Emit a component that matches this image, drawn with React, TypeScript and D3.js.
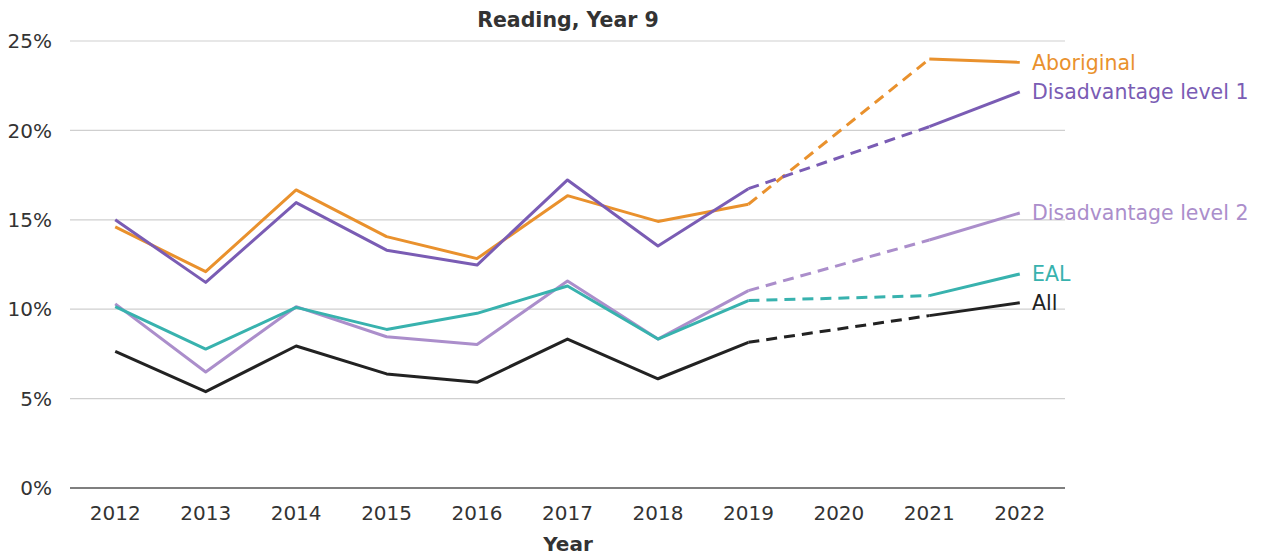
import * as d3 from "d3"
import { useRef, useEffect } from "react"

const years = [2012, 2013, 2014, 2015, 2016, 2017, 2018, 2019, 2020, 2021, 2022]
// 2020 has no result (no testing that year)
const aboriginal = [14.6, 12.1, 16.67, 14.06, 12.83, 16.35, 14.91, 15.87, null, 23.99, 23.81]
const disadvantage1 = [15.0, 11.5, 15.96, 13.3, 12.47, 17.23, 13.53, 16.74, null, 20.21, 22.15]
const disadvantage2 = [10.3, 6.49, 10.14, 8.46, 8.03, 11.58, 8.33, 11.04, null, 13.87, 15.38]
const eal = [10.14, 7.77, 10.1, 8.87, 9.77, 11.3, 8.33, 10.48, null, 10.76, 11.97]
const all = [7.64, 5.39, 7.94, 6.38, 5.91, 8.33, 6.11, 8.15, null, 9.64, 10.36]
const yTicks = [0, 5, 10, 15, 20, 25]

const series = [
  { name: "Aboriginal", values: aboriginal, color: "#e9912d" },
  { name: "Disadvantage level 1", values: disadvantage1, color: "#7a5cb4" },
  { name: "Disadvantage level 2", values: disadvantage2, color: "#ab8ecb" },
  { name: "EAL", values: eal, color: "#38b2ae" },
  { name: "All", values: all, color: "#222222" },
]

const App = () => {
  const svgRef = useRef<SVGSVGElement>(null)
  const width = 1263
  const height = 556
  const left = 70
  const right = 1065
  const top = 41
  const bottom = 488
  const font = "DejaVu Sans, sans-serif"

  useEffect(() => {
    const svg = d3.select(svgRef.current)
    svg.selectAll("*").remove()

    const x = d3
      .scalePoint<number>()
      .domain(years)
      .range([left, right])
      .padding(0.5)
    const y = d3.scaleLinear().domain([0, 25]).range([bottom, top])

    // title
    svg
      .append("text")
      .attr("x", 568)
      .attr("y", 27)
      .attr("text-anchor", "middle")
      .attr("font-family", font)
      .attr("font-weight", "bold")
      .attr("font-size", "20.5px")
      .attr("fill", "#333")
      .text("Reading, Year 9")

    // grid + y labels
    const grid = svg.append("g")
    grid
      .selectAll("line")
      .data(yTicks.filter((t) => t > 0))
      .join("line")
      .attr("x1", left)
      .attr("x2", right)
      .attr("y1", (d) => y(d))
      .attr("y2", (d) => y(d))
      .attr("stroke", "#cfcfcf")
      .attr("stroke-width", 1.2)

    grid
      .selectAll("text")
      .data(yTicks)
      .join("text")
      .attr("x", 52)
      .attr("y", (d) => y(d))
      .attr("dy", "0.36em")
      .attr("text-anchor", "end")
      .attr("font-family", font)
      .attr("font-size", "20px")
      .attr("fill", "#333")
      .text((d) => `${d}%`)

    // x axis
    svg
      .append("line")
      .attr("x1", left)
      .attr("x2", right)
      .attr("y1", bottom)
      .attr("y2", bottom)
      .attr("stroke", "#555")
      .attr("stroke-width", 1.5)

    svg
      .append("g")
      .selectAll("text")
      .data(years)
      .join("text")
      .attr("x", (d) => x(d)!)
      .attr("y", 520)
      .attr("text-anchor", "middle")
      .attr("font-family", font)
      .attr("font-size", "20px")
      .attr("fill", "#333")
      .text((d) => d)

    svg
      .append("text")
      .attr("x", 568)
      .attr("y", 551)
      .attr("text-anchor", "middle")
      .attr("font-family", font)
      .attr("font-weight", "bold")
      .attr("font-size", "20px")
      .attr("fill", "#333")
      .text("Year")

    // lines
    const line = d3
      .line<[number, number]>()
      .x((d) => x(d[0])!)
      .y((d) => y(d[1]))

    series.forEach((s) => {
      const pts = years
        .map((yr, i) => [yr, s.values[i]] as [number, number | null])
        .filter((p) => p[1] != null) as [number, number][]
      const firstGap = pts.findIndex((p) => p[0] === 2021)
      const solidA = pts.slice(0, firstGap)
      const dashed = pts.slice(firstGap - 1, firstGap + 1)
      const solidB = pts.slice(firstGap)
      const g = svg.append("g")
      ;[solidA, solidB].forEach((seg) => {
        g.append("path")
          .attr("d", line(seg))
          .attr("fill", "none")
          .attr("stroke", s.color)
          .attr("stroke-width", 3)
          .attr("stroke-linejoin", "round")
      })
      g.append("path")
        .attr("d", line(dashed))
        .attr("fill", "none")
        .attr("stroke", s.color)
        .attr("stroke-width", 3)
        .attr("stroke-dasharray", "11,7")

      const last = pts[pts.length - 1]
      g.append("text")
        .attr("x", 1032)
        .attr("y", y(last[1]))
        .attr("dy", "0.36em")
        .attr("font-family", font)
        .attr("font-size", "20.5px")
        .attr("fill", s.color)
        .text(s.name)
    })
  }, [])

  return (
    <div style={{ position: "absolute", left: 0, top: 0 }}>
      <svg ref={svgRef} width={width} height={height}></svg>
    </div>
  )
}

export default App
